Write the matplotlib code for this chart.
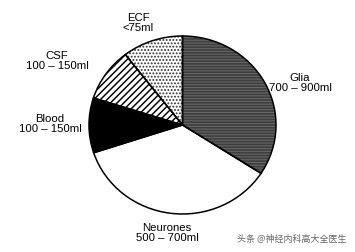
import matplotlib
matplotlib.use("Agg")
import matplotlib.pyplot as plt

labels = ["Glia\n700 – 900ml", "Neurones\n500 – 700ml", "Blood\n100 – 150ml",
          "CSF\n100 – 150ml", "ECF\n<75ml"]
values = [122.9, 128.9, 35.9, 34.6, 37.7]
faces = ["#3e3e3e", "white", "black", "white", "white"]
hatch_colors = ["#666666", "white", "black", "black", "#333333"]
hatches = ["------", "", "", "/////", "....."]
hatch_lw = [0.8, 0.8, 0.8, 1.05, 0.9]
label_pos = [(300, 83), (167, 233), (50, 124), (57, 61), (138, 23)]

W, H = 355, 253
cx, cy = 182.5, 126.0
rx, ry = 93.5, 89.0

plt.rcParams['hatch.linewidth'] = 0.8
fig = plt.figure(figsize=(W / 100, H / 100), dpi=100)
ax = fig.add_axes([0, 0, 1, 1])

wedges, _ = ax.pie(values, startangle=90, counterclock=False, radius=1,
                   colors=faces, wedgeprops=dict(linewidth=0))
for w, hc, h, hl in zip(wedges, hatch_colors, hatches, hatch_lw):
    w.set_hatch(h)
    w.set_edgecolor(hc)
    w.set_linewidth(0)
    if hasattr(w, "set_hatch_linewidth"):
        w.set_hatch_linewidth(hl)

ax.pie(values, startangle=90, counterclock=False, radius=1,
       colors=["none"] * len(values),
       wedgeprops=dict(linewidth=1.1, edgecolor="black", fill=False))

ax.set_xlim(-cx / rx, (W - cx) / rx)
ax.set_ylim(-(H - cy) / ry, cy / ry)
ax.set_aspect("auto")
ax.axis("off")

for lab, (px, py) in zip(labels, label_pos):
    fig.text(px / W, 1 - py / H, lab, ha="center", va="center",
             fontsize=8.2, family="Liberation Sans", linespacing=1.05, color="black")

fig.text(292 / W, 1 - 240 / H, "头条 @神经内科高大全医生", ha="center", va="center",
         fontsize=6.5, family=["Noto Sans CJK SC", "DejaVu Sans"], color="#666666")

fig.savefig("out.png", dpi=100)
